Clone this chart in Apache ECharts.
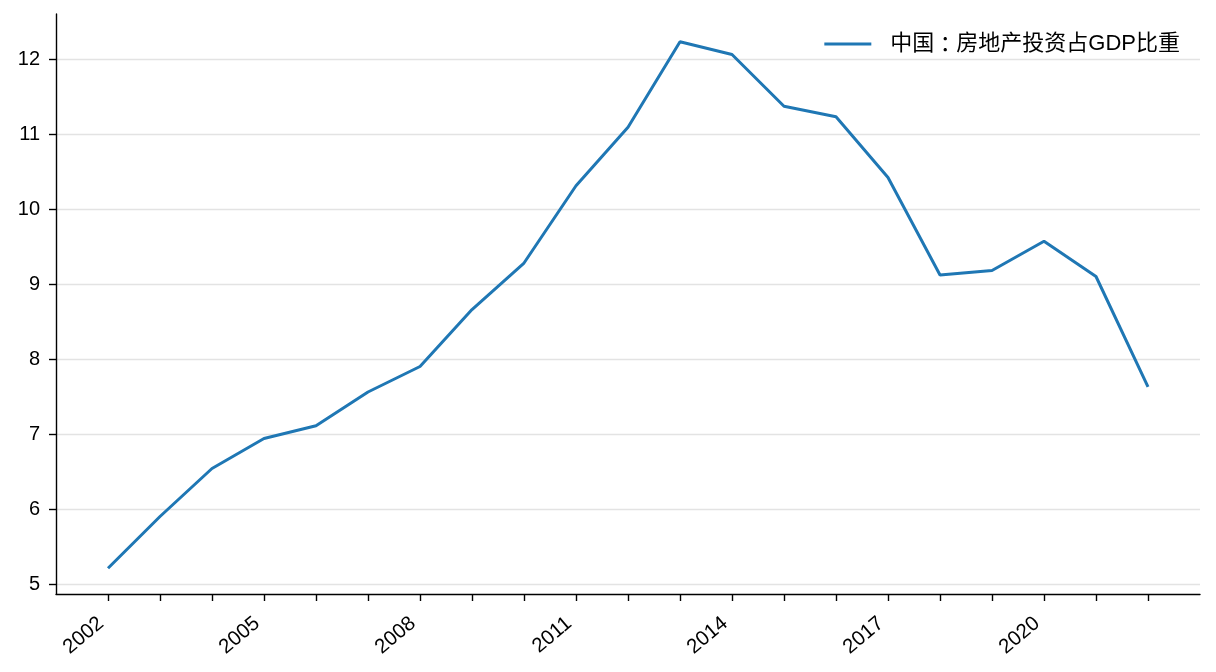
<!DOCTYPE html>
<html>
<head>
<meta charset="utf-8">
<script src="https://cdn.jsdelivr.net/npm/echarts@6/dist/echarts.min.js"></script>
<style>
html,body{margin:0;padding:0;background:#fff;}
#chart{width:1216px;height:672px;}
</style>
</head>
<body>
<div id="chart"></div>
<script>
const seriesName = '中国：房地产投资占GDP比重';
const years = [2002,2003,2004,2005,2006,2007,2008,2009,2010,2011,2012,2013,2014,2015,2016,2017,2018,2019,2020,2021,2022];
const values = [5.21,5.90,6.54,6.94,7.11,7.56,7.90,8.66,9.28,10.31,11.09,12.23,12.06,11.37,11.23,10.42,9.12,9.18,9.57,9.10,7.63];
const xTickValues = years;
const xLabelValues = [2002,2005,2008,2011,2014,2017,2020];
const yTickValues = [5,6,7,8,9,10,11,12];

const font = '"Liberation Sans", Arial, "Noto Sans CJK SC", sans-serif';
const chart = echarts.init(document.getElementById('chart'));
chart.setOption({
  animation: false,
  backgroundColor: '#ffffff',
  grid: {left: 56, right: 16, top: 14, bottom: 78, containLabel: false},
  legend: {
    right: 31, top: 28,
    icon: 'rect',
    itemWidth: 47, itemHeight: 3,
    data: [seriesName],
    formatter: name => name.replace('：', '{c|：}'),
    textStyle: {
      fontFamily: font, fontSize: 22, color: '#000', padding: [0,0,0,14],
      rich: {c: {fontFamily: '"Noto Sans CJK TC"', fontSize: 22, color: '#000'}}
    }
  },
  xAxis: {
    type: 'value',
    min: 2001, max: 2023,
    axisLine: {show: true, onZero: false, lineStyle: {color: '#000', width: 1.4}},
    axisTick: {show: true, length: 7, customValues: xTickValues, lineStyle: {color: '#000', width: 1.4}},
    axisLabel: {
      customValues: xLabelValues,
      rotate: 40,
      margin: 21,
      padding: [0, 9, 0, 0],
      fontFamily: font, fontSize: 20.5, color: '#000',
      formatter: v => String(v)
    },
    splitLine: {show: false}
  },
  yAxis: {
    type: 'value',
    min: 4.867, max: 12.6,
    axisLine: {show: true, lineStyle: {color: '#000', width: 1.4}},
    axisTick: {show: true, length: 7, customValues: yTickValues, lineStyle: {color: '#000', width: 1.4}},
    axisLabel: {
      customValues: yTickValues,
      margin: 16,
      fontFamily: font, fontSize: 20, color: '#000',
      formatter: v => String(v)
    },
    splitLine: {show: true, lineStyle: {color: '#e3e3e3', width: 1.3}}
  },
  series: [{
    name: seriesName,
    type: 'line',
    data: years.map((y, i) => [y, values[i]]),
    showSymbol: false,
    symbol: 'none',
    lineStyle: {color: '#1f77b4', width: 3},
    itemStyle: {color: '#1f77b4'}
  }]
});
</script>
</body>
</html>
